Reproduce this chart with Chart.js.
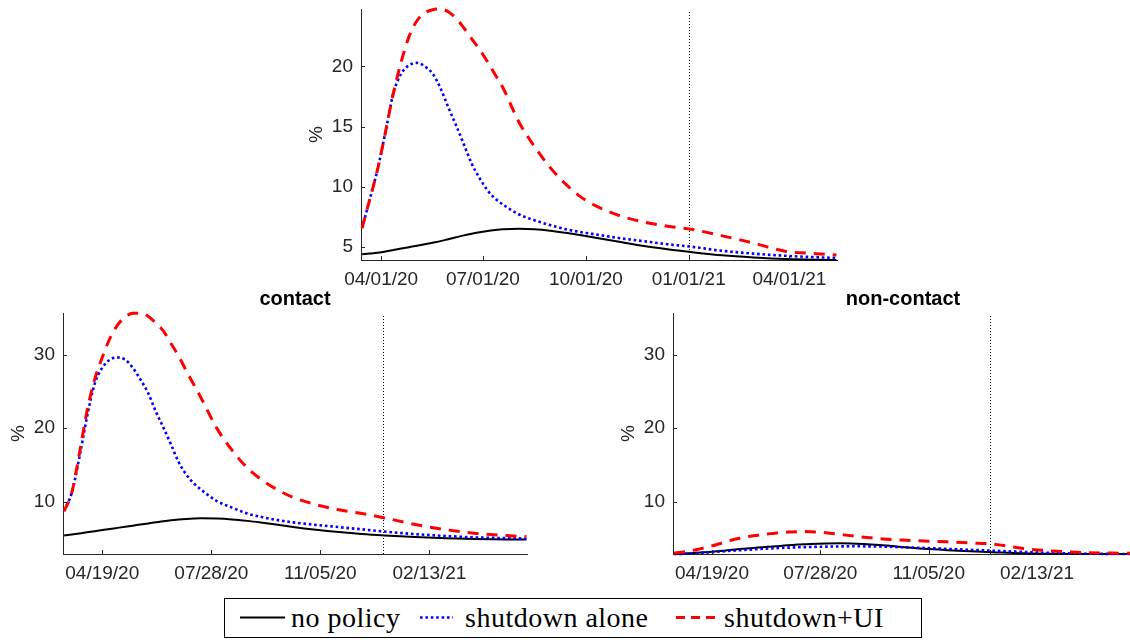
<!DOCTYPE html>
<html>
<head>
<meta charset="utf-8">
<script src="https://cdn.jsdelivr.net/npm/chart.js@4.4.1/dist/chart.umd.min.js"></script>
<style>
  body { margin: 0; width: 1130px; height: 640px; overflow: hidden; background: #fff; position: relative; }
  canvas { position: absolute; }
  .panel-title { position: absolute; font: bold 20px 'Liberation Sans', Arial, sans-serif; line-height: 20px; color: #000; transform: translateX(-50%); white-space: nowrap; }
  #legend { position: absolute; left: 0; top: 0; }
</style>
</head>
<body>
<canvas id="total-chart"></canvas>
<canvas id="contact-chart"></canvas>
<canvas id="noncontact-chart"></canvas>
<div class="panel-title" style="left:295px;top:288px">contact</div>
<div class="panel-title" style="left:903px;top:288px">non-contact</div>
<svg id="legend" width="1130" height="640">
  <rect x="224.5" y="598.5" width="697" height="39" fill="#fff" stroke="#000" stroke-width="1"/>
  <line x1="240" y1="617.5" x2="285" y2="617.5" stroke="#000" stroke-width="2"/>
  <line x1="420" y1="617.5" x2="453" y2="617.5" stroke="#0000ff" stroke-width="2.6" stroke-dasharray="2.6 2.8"/>
  <line x1="676" y1="617.5" x2="717" y2="617.5" stroke="#ff0000" stroke-width="3" stroke-dasharray="9 6"/>
  <g font-family="'Liberation Serif', 'Times New Roman', serif" font-size="28" letter-spacing="0.5" fill="#000">
    <text id="lg0" x="291" y="626.5"></text>
    <text id="lg1" x="465" y="626.5"></text>
    <text id="lg2" x="724" y="626.5"></text>
  </g>
</svg>
<script>
// x axis is in days counted from 03/15/20
const startDate = Date.UTC(2020, 2, 15)
const xMin = -1, xMax = 424.5
const policyEndLabel = '01/01/21'

const seriesNames = ['no policy', 'shutdown alone', 'shutdown+UI']

const days = [0, 7, 14, 21, 28, 35, 42, 49, 56, 63, 70, 77, 84, 91, 98, 105, 112, 119, 126,
    140, 154, 168, 182, 196, 210, 231, 252, 273, 294, 322, 350, 378, 406, 424]

// top panel (all sectors)
const totalNoPolicy = [4.37, 4.43, 4.5, 4.6, 4.72, 4.84, 4.96, 5.08, 5.2, 5.33, 5.46, 5.62, 5.78, 5.94, 6.08, 6.2, 6.31, 6.39, 6.45,
    6.5, 6.45, 6.33, 6.15, 5.95, 5.73, 5.38, 5.05, 4.78, 4.55, 4.28, 4.1, 3.97, 3.92, 3.89]
const totalShutdown = [6.55, 9.0, 11.5, 14.6, 17.8, 19.4, 20.1, 20.3, 20.0, 19.4, 18.2, 16.6, 15.1, 13.5, 11.9, 10.7, 9.7, 9.0, 8.5,
    7.7, 7.2, 6.8, 6.45, 6.2, 6.0, 5.7, 5.45, 5.2, 5.0, 4.65, 4.42, 4.24, 4.12, 4.06]
const totalShutdownUI = [6.55, 9.0, 11.5, 14.6, 17.8, 20.4, 22.5, 23.8, 24.45, 24.72, 24.78, 24.55, 24.0, 23.2, 22.3, 21.4, 20.4, 19.3, 18.2,
    15.4, 13.35, 11.6, 10.2, 9.1, 8.35, 7.55, 7.05, 6.7, 6.45, 5.9, 5.3, 4.62, 4.42, 4.3]
const totalTicks = [5, 10, 15, 20]
const totalRange = [3.89, 24.78]
const totalDateLabels = ['04/01/20', '07/01/20', '10/01/20', '01/01/21', '04/01/21']

// bottom panels
const contactNoPolicy = [5.4, 5.55, 5.7, 5.85, 6.0, 6.15, 6.3, 6.45, 6.6, 6.75, 6.9, 7.05, 7.2, 7.35, 7.48, 7.58, 7.66, 7.72, 7.75,
    7.72, 7.6, 7.4, 7.15, 6.88, 6.58, 6.2, 5.88, 5.62, 5.42, 5.2, 5.03, 4.93, 4.88, 4.87]
const contactShutdown = [8.8, 11.2, 16.0, 21.5, 26.0, 28.2, 29.3, 29.6, 29.3, 28.2, 26.6, 24.8, 22.3, 20.1, 17.8, 15.4, 13.7, 12.5, 11.6,
    10.1, 9.2, 8.4, 7.9, 7.5, 7.2, 6.85, 6.55, 6.25, 5.95, 5.6, 5.35, 5.15, 5.05, 5.0]
const contactShutdownUI = [8.7, 11.2, 16.5, 22.3, 26.6, 29.6, 32.2, 34.0, 35.1, 35.6, 35.6, 35.2, 34.3, 33.2, 31.5, 29.8, 27.8, 25.9, 24.0,
    20.0, 17.0, 14.6, 12.9, 11.6, 10.6, 9.6, 8.9, 8.4, 7.8, 6.9, 6.2, 5.7, 5.4, 5.25]

const nonContactNoPolicy = [2.92, 2.95, 3.0, 3.07, 3.13, 3.2, 3.3, 3.4, 3.5, 3.6, 3.68, 3.77, 3.85, 3.93, 4.0, 4.08, 4.15, 4.22, 4.27,
    4.33, 4.35, 4.3, 4.2, 4.05, 3.85, 3.6, 3.42, 3.27, 3.15, 3.0, 2.93, 2.91, 2.9, 2.9]
const nonContactShutdown = [2.9, 2.92, 2.96, 3.02, 3.1, 3.15, 3.23, 3.3, 3.37, 3.44, 3.5, 3.56, 3.62, 3.67, 3.72, 3.76, 3.8, 3.83, 3.86,
    3.9, 3.93, 3.95, 3.93, 3.9, 3.82, 3.72, 3.6, 3.47, 3.35, 3.18, 3.03, 2.95, 2.91, 2.9]
const nonContactShutdownUI = [3.05, 3.15, 3.3, 3.5, 3.75, 4.0, 4.3, 4.6, 4.9, 5.1, 5.3, 5.45, 5.6, 5.7, 5.8, 5.88, 5.93, 5.95, 5.93,
    5.8, 5.55, 5.3, 5.1, 4.92, 4.8, 4.67, 4.55, 4.4, 4.25, 3.65, 3.3, 3.1, 3.02, 3.0]

const sectorTicks = [10, 20, 30]
const sectorRange = [2.9, 35.64]
const sectorDateLabels = ['04/19/20', '07/28/20', '11/05/20', '02/13/21']

const lineStyles = [
    { borderColor: '#000000', borderWidth: 2, borderDash: [], order: 3 },
    { borderColor: '#0000ff', borderWidth: 2.6, borderDash: [2.6, 2.8], order: 2 },
    { borderColor: '#ff0000', borderWidth: 3, borderDash: [11, 8], order: 1 }
]

const yAxisWidth = 60, xAxisHeight = 40, padTop = 6, padRight = 6
const axisColor = '#262626'

const toDay = (label) => {
    const [mm, dd, yy] = label.split('/').map(Number)
    return (Date.UTC(2000 + yy, mm - 1, dd) - startDate) / 864e5
}

Chart.defaults.font.family = "'Liberation Sans', Arial, sans-serif"
Chart.defaults.font.size = 19
Chart.defaults.color = axisColor

// no extra room for end labels, the panel boxes are fixed
const noScalePadding = (scale) => {
    scale.paddingTop = 0
    scale.paddingBottom = 0
    scale.paddingLeft = 0
    scale.paddingRight = 0
}

// dotted policy line + inward tick marks like matlab
const panelMarks = {
    id: 'panelMarks',
    beforeDatasetsDraw(chart, args, opts) {
        const { ctx, chartArea, scales: { x } } = chart
        const px = Math.round(x.getPixelForValue(opts.lineDay)) + 0.5
        ctx.save()
        ctx.strokeStyle = '#000'
        ctx.lineWidth = 1
        ctx.setLineDash([1, 2])
        ctx.beginPath()
        ctx.moveTo(px, chartArea.top + 3)
        ctx.lineTo(px, chartArea.bottom)
        ctx.stroke()
        ctx.restore()
    },
    afterDraw(chart) {
        const { ctx, chartArea, scales: { x, y } } = chart
        ctx.save()
        ctx.strokeStyle = axisColor
        ctx.lineWidth = 1
        ctx.beginPath()
        x.ticks.forEach(t => {
            const p = Math.round(x.getPixelForValue(t.value)) + 0.5
            ctx.moveTo(p, chartArea.bottom)
            ctx.lineTo(p, chartArea.bottom - 4)
        })
        y.ticks.forEach(t => {
            const p = Math.round(y.getPixelForValue(t.value)) + 0.5
            ctx.moveTo(chartArea.left, p)
            ctx.lineTo(chartArea.left + 4, p)
        })
        ctx.stroke()
        ctx.restore()
    }
}

const makePanel = (id, area, series, yTicks, yRange, dateLabels) => {
    const canvas = document.getElementById(id)
    canvas.width = area.right - area.left + yAxisWidth + padRight
    canvas.height = area.bottom - area.top + padTop + xAxisHeight
    canvas.style.left = (area.left - yAxisWidth) + 'px'
    canvas.style.top = (area.top - padTop) + 'px'

    const tickDays = dateLabels.map(toDay)

    return new Chart(canvas, {
        type: 'line',
        data: {
            datasets: series.map((values, i) => ({
                label: seriesNames[i],
                data: days.map((d, j) => ({ x: d, y: values[j] })),
                ...lineStyles[i],
                pointRadius: 0,
                fill: false,
                clip: false,
                cubicInterpolationMode: 'monotone'
            }))
        },
        options: {
            responsive: false,
            animation: false,
            layout: { padding: { top: padTop, right: padRight, left: 0, bottom: 0 } },
            plugins: {
                legend: { display: false },
                tooltip: { enabled: false },
                panelMarks: { lineDay: toDay(policyEndLabel) }
            },
            scales: {
                x: {
                    type: 'linear',
                    min: xMin,
                    max: xMax,
                    grid: { display: true, drawOnChartArea: false, drawTicks: false },
                    border: { display: true, color: axisColor, width: 1 },
                    afterBuildTicks: (scale) => { scale.ticks = tickDays.map(v => ({ value: v })) },
                    afterFit: (scale) => { scale.height = xAxisHeight; noScalePadding(scale) },
                    ticks: {
                        autoSkip: false,
                        maxRotation: 0,
                        minRotation: 0,
                        padding: 8,
                        callback: (v) => dateLabels[tickDays.indexOf(v)]
                    }
                },
                y: {
                    min: yRange[0],
                    max: yRange[1],
                    grid: { display: true, drawOnChartArea: false, drawTicks: false },
                    border: { display: true, color: axisColor, width: 1 },
                    afterBuildTicks: (scale) => { scale.ticks = yTicks.map(v => ({ value: v })) },
                    afterFit: (scale) => { scale.width = yAxisWidth; noScalePadding(scale) },
                    ticks: { padding: 8 },
                    title: { display: true, text: '%', padding: { top: 4, bottom: 0 } }
                }
            }
        },
        plugins: [panelMarks]
    })
}

makePanel('total-chart', { left: 361, right: 837, top: 9, bottom: 260 },
    [totalNoPolicy, totalShutdown, totalShutdownUI], totalTicks, totalRange, totalDateLabels)
makePanel('contact-chart', { left: 63, right: 527, top: 313, bottom: 554 },
    [contactNoPolicy, contactShutdown, contactShutdownUI], sectorTicks, sectorRange, sectorDateLabels)
makePanel('noncontact-chart', { left: 673, right: 1134, top: 313, bottom: 554 },
    [nonContactNoPolicy, nonContactShutdown, nonContactShutdownUI], sectorTicks, sectorRange, sectorDateLabels)

seriesNames.forEach((name, i) => { document.getElementById('lg' + i).textContent = name })
</script>
</body>
</html>
